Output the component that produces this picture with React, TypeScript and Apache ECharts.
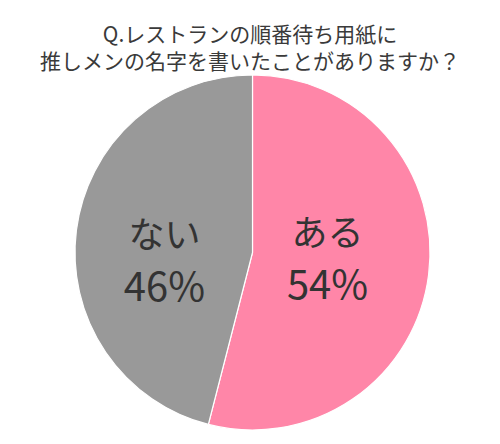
import React, { useEffect, useRef } from "react";
import * as echarts from "echarts";

const titleLines = ["Q.レストランの順番待ち用紙に", "推しメンの名字を書いたことがありますか？"];
const categories = ["ある", "ない"];
const values = [54, 46];
const colors = ["#FF86A8", "#999999"];
const labelOffsets = [[-16, -8], [3, 17]];

export default function App() {
  const ref = useRef<HTMLDivElement>(null);
  useEffect(() => {
    document.body.style.margin = "0";
    const chart = echarts.init(ref.current!, null, { renderer: "svg" });
    const font = '"Noto Sans CJK JP", "Noto Sans", sans-serif';
    chart.setOption({
      animation: false,
      backgroundColor: "#ffffff",
      title: {
        text: titleLines.join("\n"),
        left: "center",
        top: 14,
        textStyle: {
          fontFamily: font,
          fontSize: 21,
          fontWeight: "normal",
          color: "#3a3a3a",
          lineHeight: 27,
        },
      },
      series: [
        {
          type: "pie",
          center: [252.5, 252.5],
          radius: [0, 177.5],
          startAngle: 90,
          clockwise: true,
          itemStyle: { borderColor: "#ffffff", borderWidth: 1.2 },
          label: {
            show: true,
            position: "inside",
            formatter: "{a|{b}}\n{p|{d}%}",
            rich: {
              a: { fontFamily: font, fontSize: 36, color: "#333333", lineHeight: 52 },
              p: { fontFamily: font, fontSize: 40, color: "#333333", lineHeight: 52 },
            },
          },
          labelLine: { show: false },
          emphasis: { disabled: true },
          data: categories.map((name, i) => ({
            name,
            value: values[i],
            itemStyle: { color: colors[i] },
            label: { offset: labelOffsets[i] },
          })),
        },
      ],
    });
    return () => chart.dispose();
  }, []);
  return <div ref={ref} style={{ width: 500, height: 444 }} />;
}
